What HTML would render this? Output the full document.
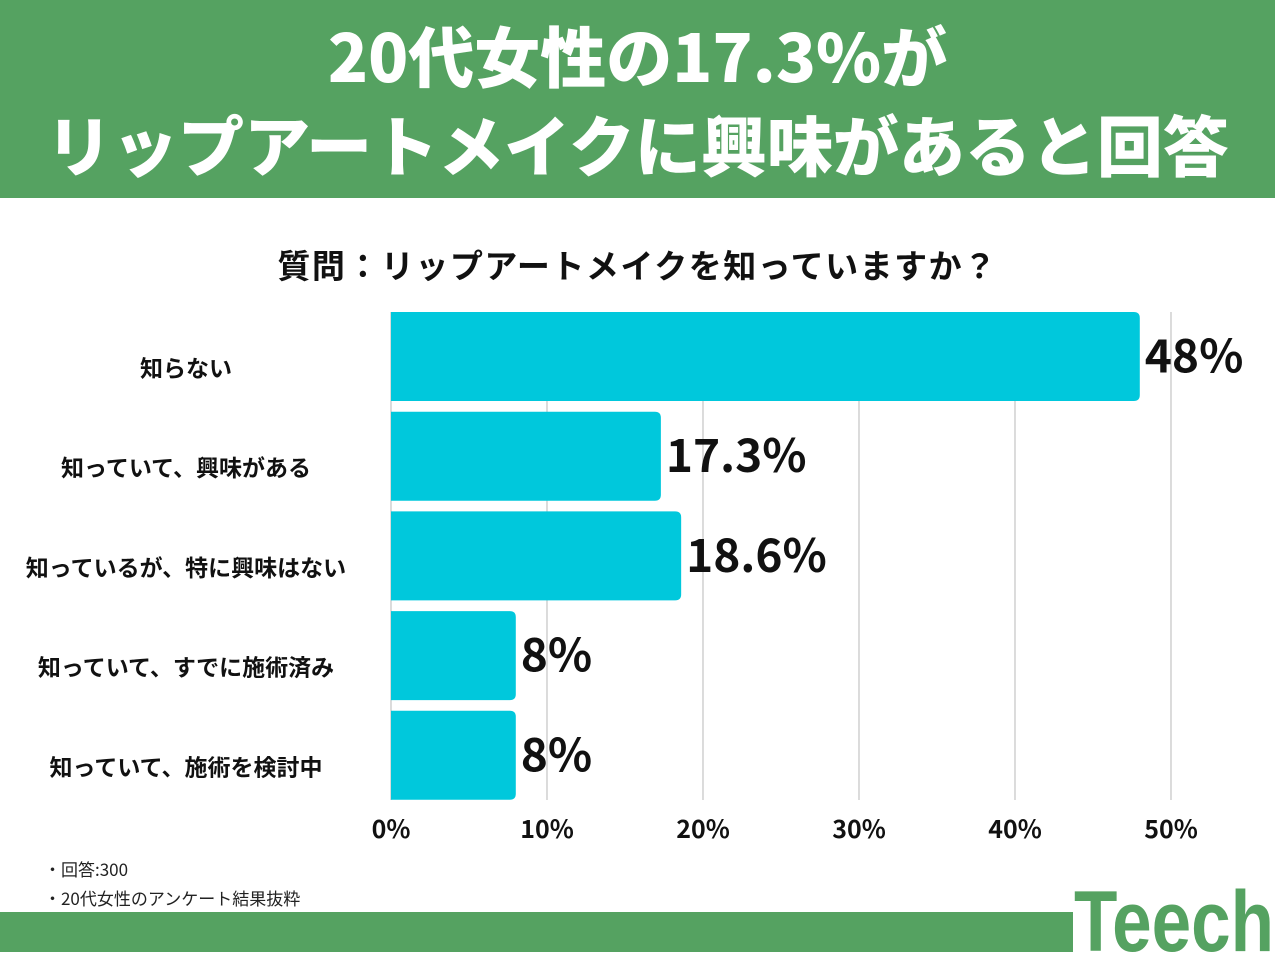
<!DOCTYPE html>
<html><head><meta charset="utf-8">
<style>
body{margin:0;width:1275px;height:952px;background:#fff;position:relative;overflow:hidden;font-family:"Noto Sans CJK JP","Liberation Sans",sans-serif;}
#hdr{position:absolute;left:0;top:0;width:1275px;height:198px;background:#55a261;color:#fff;font-weight:900;text-align:center;}
#hdr div{position:absolute;left:0;width:1275px;font-size:66px;line-height:80px;}
#q{position:absolute;left:0;width:1275px;top:242px;text-align:center;font-size:33px;line-height:44px;font-weight:700;color:#111;letter-spacing:1.5px;}
.note{position:absolute;left:44px;font-size:17px;line-height:24px;color:#222;}
#foot{position:absolute;left:0;top:912px;width:1073px;height:40px;background:#55a261;}
</style></head><body>
<div id="hdr">
<div style="top:14px">20代女性の17.3%が</div>
<div style="top:103px">リップアートメイクに興味があると回答</div>
</div>
<div id="q">質問：リップアートメイクを知っていますか？</div>
<svg id="chart" width="1275" height="952" style="position:absolute;left:0;top:0"></svg>
<div class="note" style="top:857px">・回答:300</div>
<div class="note" style="top:886px">・20代女性のアンケート結果抜粋</div>
<div id="foot"></div>
<svg width="205" height="70" style="position:absolute;left:1072px;top:885px">
<text x="2" y="66" font-family="Liberation Sans,sans-serif" font-weight="700" font-size="86" fill="#55a261" textLength="200" lengthAdjust="spacingAndGlyphs">Teech</text>
</svg>
<script>
const categories=["知らない","知っていて、興味がある","知っているが、特に興味はない","知っていて、すでに施術済み","知っていて、施術を検討中"];
const values=[48,17.3,18.6,8,8];
const valueLabels=["48%","17.3%","18.6%","8%","8%"];
const ticks=[0,10,20,30,40,50];
const NS="http://www.w3.org/2000/svg";
const svg=document.getElementById('chart');
const x0=391,pxPer=15.6,top0=312,pitch=99.7,bh=89;
const xs=v=>x0+v*pxPer;
function mk(t,a){const e=document.createElementNS(NS,t);for(const k in a)e.setAttribute(k,a[k]);svg.appendChild(e);return e;}
ticks.forEach((t,i)=>{
 const g=mk('line',{x1:xs(t),x2:xs(t),y1:top0,y2:800,stroke:'#c8c8c8','stroke-width':1.3});
 
 
 const l=mk('text',{x:xs(t),y:838,'text-anchor':'middle','font-size':25,'font-weight':700,fill:'#111'});
 l.textContent=t+'%';
 
 
});
categories.forEach((c,i)=>{
 const y=top0+i*pitch;
 const w=xs(values[i])-x0;
 const b=mk('path',{d:`M${x0},${y}H${x0+w-6}Q${x0+w},${y} ${x0+w},${y+6}V${y+bh-6}Q${x0+w},${y+bh} ${x0+w-6},${y+bh}H${x0}Z`,fill:'#00c8dc'});
 
 
 const v=mk('text',{x:x0+w+5,y:y+bh/2+16,'font-size':46,'font-weight':700,fill:'#111'});
 v.textContent=valueLabels[i];
 
 
 const t=mk('text',{x:186,y:y+bh/2+20,'text-anchor':'middle','font-size':23,'font-weight':700,fill:'#111'});
 t.textContent=c;
 
 
});
</script>
</body></html>
